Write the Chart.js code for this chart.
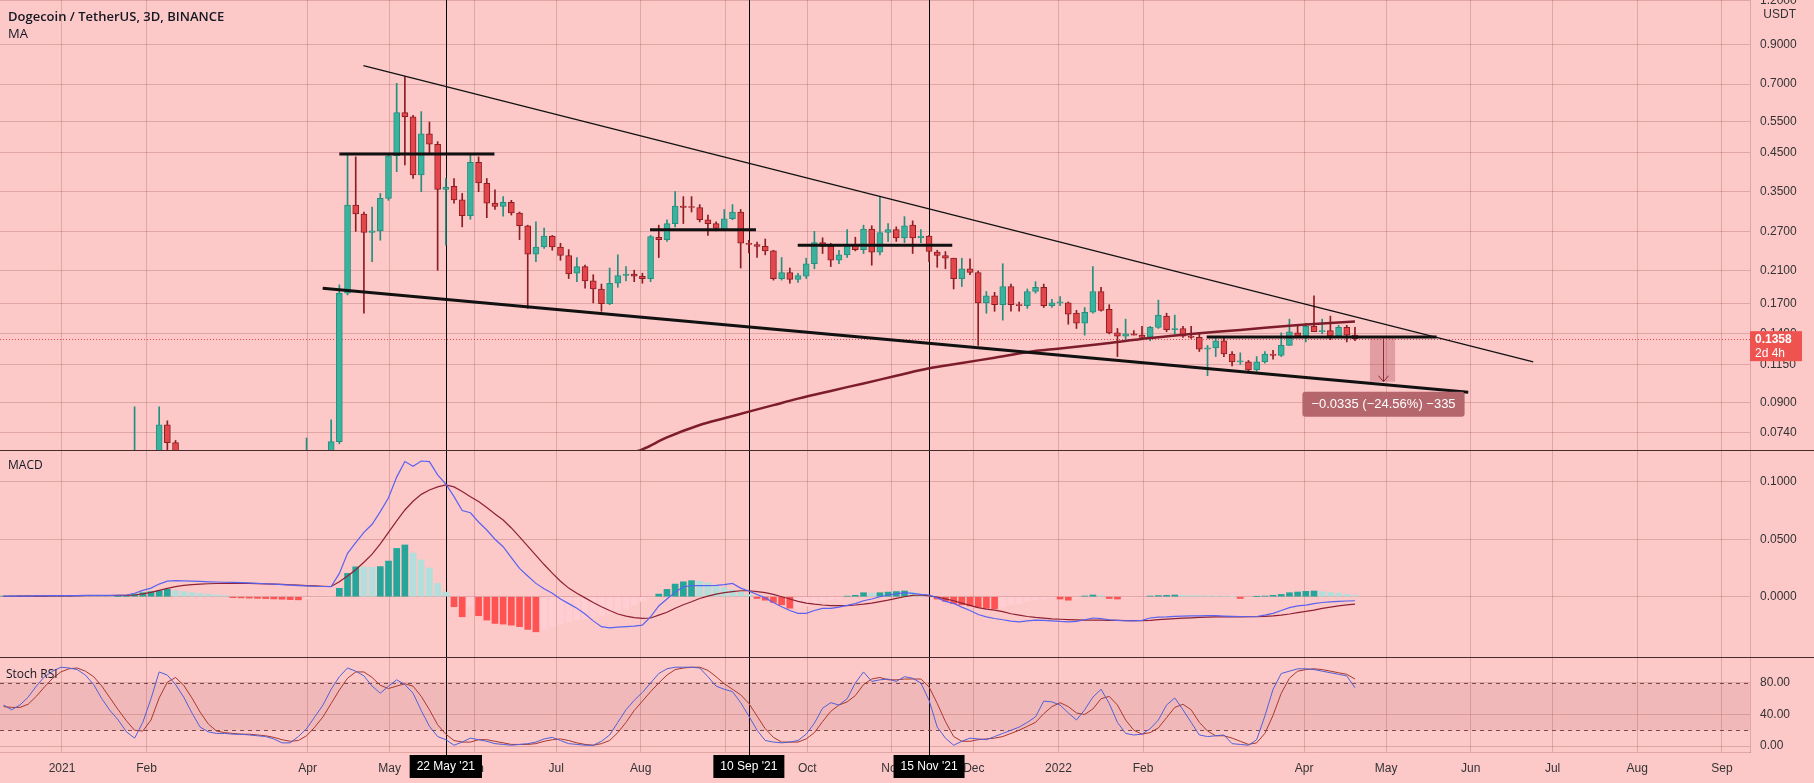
<!DOCTYPE html>
<html>
<head>
<meta charset="utf-8">
<title>Dogecoin / TetherUS, 3D, BINANCE</title>
<script src="https://cdn.jsdelivr.net/npm/chart.js@4.4.1/dist/chart.umd.min.js"></script>
<style>
  html, body { margin: 0; padding: 0; background: #fcc8c8; overflow: hidden; }
  #wrap { position: relative; width: 1814px; height: 783px; }
  canvas { position: absolute; left: 0; }
  .sep { position: absolute; left: 0; width: 1814px; height: 1px; background: #4a2b2b; }
</style>
</head>
<body>
<div id="wrap">
  <canvas id="pricePane" width="1814" height="450" style="top:0"></canvas>
  <div class="sep" style="top:450px"></div>
  <canvas id="macdPane" width="1814" height="206" style="top:451px"></canvas>
  <div class="sep" style="top:657px"></div>
  <canvas id="stochPane" width="1814" height="125" style="top:658px"></canvas>
</div>
<script>
// time axis: day 0 = 1 Jan 2021, one candle every 3 days
const firstBarDay = -21.4;
const barStepDays = 3;

// OHLC, null where the whole candle sits below the visible price range
const open = [
  null,null,null,null,null,null,null,null,null,null,null,null,null,null,null,null,
  .0075,null,null,.050,.078,.0695,null,null,null,null,null,null,null,null,null,null,null,null,null,null,null,.055,null,null,.060,
  .070,.182,.321,.303,.269,.272,.335,.441,.582,.567,
  .390,.508,.475,.355,.362,.332,.300,.423,.369,.325,
  .318,.327,.305,.281,.234,.245,.263,.245,.232,.207,
  .216,.197,.187,.170,.194,.204,.206,.203,.200,.261,
  .257,.285,.319,.317,.316,.292,.285,.274,.294,.307,
  .251,.249,.246,.239,.200,.208,.199,.203,.220,.252,
  .246,.225,.233,.248,.241,.275,.237,.269,.274,.260,
  .282,.260,.263,.237,.232,.228,.200,.213,.208,.171,
  .179,.169,.190,.169,.168,.184,.189,.168,.171,.171,
  .160,.150,.161,.184,.164,.141,.138,.140,.139,.137,
  .146,.157,.144,.145,.138,.137,.127,.128,.134,.123,
  .117,.117,.111,.117,.123,.122,.130,.141,.138,.147,
  .142,.143,.138,.146,.139
];
const high = [
  null,null,null,null,null,null,null,null,null,null,null,null,null,null,null,null,
  .0875,null,null,.0875,.080,.0705,null,null,null,null,null,null,null,null,null,null,null,null,null,null,null,.0716,null,null,.0805,
  .192,.448,.438,.307,.317,.346,.448,.703,.734,.572,
  .586,.548,.483,.381,.381,.346,.448,.438,.381,.354,
  .339,.331,.307,.282,.288,.277,.264,.251,.241,.229,
  .218,.205,.193,.214,.233,.216,.211,.207,.264,.282,
  .292,.350,.339,.339,.322,.301,.288,.312,.322,.312,
  .256,.253,.258,.240,.229,.214,.207,.228,.271,.260,
  .251,.240,.274,.261,.282,.281,.339,.285,.279,.298,
  .290,.274,.264,.240,.238,.228,.228,.227,.210,.184,
  .183,.220,.193,.172,.187,.196,.193,.175,.178,.172,
  .163,.166,.216,.189,.169,.145,.154,.143,.147,.147,
  .174,.160,.158,.147,.147,.141,.130,.137,.136,.125,
  .124,.118,.121,.125,.126,.141,.154,.148,.150,.179,
  .154,.157,.148,.148,.146
];
const low = [
  null,null,null,null,null,null,null,null,null,null,null,null,null,null,null,null,
  .0074,null,null,.048,.066,.055,null,null,null,null,null,null,null,null,null,null,null,null,null,null,null,.053,null,null,.058,
  .069,.180,.271,.160,.223,.256,.331,.398,.416,.381,
  .350,.448,.211,.248,.325,.279,.293,.350,.296,.312,
  .299,.301,.257,.165,.223,.243,.240,.225,.200,.196,
  .188,.171,.162,.169,.189,.197,.196,.194,.196,.229,
  .254,.279,.285,.307,.288,.264,.272,.272,.292,.214,
  .236,.229,.233,.198,.198,.194,.195,.200,.213,.235,
  .216,.220,.229,.239,.235,.218,.233,.254,.254,.252,
  .235,.252,.223,.215,.213,.187,.190,.205,.130,.160,
  .162,.153,.162,.162,.165,.182,.166,.166,.168,.149,
  .145,.139,.160,.162,.140,.121,.135,.139,.136,.134,
  .145,.142,.140,.137,.136,.125,.107,.121,.121,.114,
  .115,.110,.110,.116,.119,.121,.130,.137,.133,.142,
  .140,.135,.137,.133,.134
];
const close = [
  null,null,null,null,null,null,null,null,null,null,null,null,null,null,null,null,
  .035,null,null,.078,.0695,.060,null,null,null,null,null,null,null,null,null,null,null,null,null,null,null,.060,null,null,.070,
  .182,.321,.303,.269,.272,.335,.441,.582,.567,.390,
  .508,.475,.355,.360,.332,.300,.423,.370,.325,.318,
  .327,.305,.281,.234,.245,.263,.245,.232,.206,.216,
  .197,.187,.170,.194,.204,.206,.203,.200,.262,.257,
  .285,.319,.316,.316,.292,.285,.276,.294,.307,.251,
  .249,.246,.239,.200,.208,.199,.204,.220,.252,.246,
  .225,.233,.248,.241,.275,.237,.269,.274,.260,.281,
  .260,.263,.238,.232,.228,.200,.213,.208,.171,.179,
  .169,.190,.169,.168,.184,.189,.168,.171,.172,.159,
  .150,.161,.184,.163,.141,.138,.140,.139,.137,.146,
  .158,.144,.145,.138,.137,.127,.128,.134,.123,.117,
  .1175,.111,.117,.123,.122,.130,.142,.138,.147,.142,
  .143,.138,.146,.139,.1358
];

// MA overlay, read at a subset of bars (index into the bar arrays)
const maBars = [71,75,78,81,85,88,91,94,97,101,105,109,113,117,121,125,129,134,140,146,151,157,161,165];
const maValues = [0.0583,0.0634,0.0666,0.0719,0.0779,0.0813,0.0849,0.0885,0.0923,0.0970,0.1018,0.1069,
                  0.1122,0.1161,0.1201,0.1245,0.1275,0.1313,0.1363,0.1406,0.1437,0.1475,0.1498,0.1517];

const macdLine = [
  0.0005,0.0005,0.0006,0.0006,0.0007,0.0008,0.0009,0.0009,0.0010,0.0010,0.0011,0.0011,0.0012,0.0012,0.0013,0.0015,
  0.0030,0.0055,0.0075,0.0110,0.0135,0.0140,0.0138,0.0135,0.0133,0.0130,
  0.0128,0.0126,0.0124,0.0122,0.0120,0.0116,0.0113,0.0110,0.0105,0.0101,
  0.0097,0.0094,0.0091,0.0089,0.0088,0.0203,0.0377,0.0470,0.0560,0.0630,
  0.0740,0.0860,0.1040,0.1175,0.1135,0.1180,0.1175,0.1060,0.0980,0.0870,
  0.0750,0.0730,0.0650,0.0580,0.0500,0.0435,0.0340,0.0247,0.0180,0.0116,
  0.0070,0.0030,-0.0020,-0.0060,-0.0100,-0.0150,-0.0210,-0.0260,-0.0270,-0.0265,
  -0.0260,-0.0255,-0.0247,-0.0174,-0.0080,-0.0020,0.0040,0.0087,0.0096,0.0096,
  0.0096,0.0098,0.0105,0.0116,0.0075,0.0050,0.0020,-0.0010,-0.0050,-0.0087,
  -0.0120,-0.0145,-0.0145,-0.0120,-0.0101,-0.0101,-0.0090,-0.0075,-0.0060,-0.0035,
  -0.0020,0.0000,0.0015,0.0025,0.0035,0.0030,0.0020,0.0015,-0.0010,-0.0040,
  -0.0058,-0.0090,-0.0120,-0.0155,-0.0175,-0.0189,-0.0200,-0.0212,-0.0218,-0.0210,
  -0.0203,-0.0205,-0.0210,-0.0215,-0.0218,-0.0215,-0.0200,-0.0185,-0.0190,-0.0200,
  -0.0205,-0.0209,-0.0210,-0.0205,-0.0185,-0.0178,-0.0175,-0.0170,-0.0168,-0.0167,
  -0.0166,-0.0165,-0.0165,-0.0168,-0.0170,-0.0172,-0.0174,-0.0172,-0.0160,-0.0145,
  -0.0120,-0.0095,-0.0080,-0.0073,-0.0060,-0.0050,-0.0044,-0.0040,-0.0037,-0.0035
];
const signalLine = [
  0.0004,0.0004,0.0005,0.0005,0.0006,0.0006,0.0007,0.0007,0.0008,0.0008,0.0009,0.0009,0.0010,0.0010,0.0011,0.0012,
  0.0015,0.0025,0.0038,0.0055,0.0073,0.0088,0.0098,0.0105,0.0110,0.0113,
  0.0115,0.0116,0.0116,0.0116,0.0115,0.0114,0.0112,0.0110,0.0107,0.0104,
  0.0101,0.0097,0.0094,0.0091,0.0089,0.0130,0.0180,0.0235,0.0300,0.0370,
  0.0460,0.0560,0.0660,0.0754,0.0830,0.0890,0.0928,0.0955,0.0972,0.0955,
  0.0914,0.0870,0.0827,0.0775,0.0720,0.0667,0.0598,0.0520,0.0440,0.0360,
  0.0280,0.0205,0.0135,0.0075,0.0030,-0.0010,-0.0050,-0.0087,-0.0120,-0.0150,
  -0.0168,-0.0182,-0.0189,-0.0185,-0.0160,-0.0135,-0.0100,-0.0070,-0.0044,-0.0015,
  0.0005,0.0023,0.0035,0.0045,0.0052,0.0052,0.0045,0.0035,0.0020,0.0000,
  -0.0020,-0.0040,-0.0055,-0.0065,-0.0072,-0.0077,-0.0078,-0.0077,-0.0072,-0.0065,
  -0.0055,-0.0042,-0.0030,-0.0015,0.0000,0.0012,0.0015,0.0008,-0.0003,-0.0018,
  -0.0035,-0.0055,-0.0075,-0.0095,-0.0108,-0.0116,-0.0130,-0.0148,-0.0160,-0.0172,
  -0.0180,-0.0186,-0.0192,-0.0196,-0.0199,-0.0201,-0.0203,-0.0203,-0.0204,-0.0205,
  -0.0206,-0.0207,-0.0208,-0.0209,-0.0205,-0.0199,-0.0194,-0.0190,-0.0186,-0.0183,
  -0.0180,-0.0178,-0.0176,-0.0175,-0.0175,-0.0175,-0.0174,-0.0174,-0.0170,-0.0166,
  -0.0160,-0.0150,-0.0138,-0.0128,-0.0116,-0.0102,-0.0090,-0.0080,-0.0071,-0.0064
];
const histogram = [
  0.0006,0.0007,0.0007,0.0008,0.0008,0.0008,0.0009,0.0009,0.0009,0.0008,0.0005,0.0004,0.0003,0.0002,0.0002,0.0003,
  0.0023,0.0035,0.0044,0.0052,0.0064,0.0052,0.0045,0.0036,0.0028,0.0022,
  0.0015,0.0010,-0.0008,-0.0010,-0.0012,-0.0014,-0.0016,-0.0019,-0.0022,-0.0025,
  -0.0027,-0.0018,-0.0012,-0.0007,-0.0003,0.0073,0.0203,0.0260,0.0258,0.0256,
  0.0262,0.0310,0.0420,0.0450,0.0380,0.0320,0.0250,0.0116,0.0040,-0.0087,
  -0.0174,-0.0080,-0.0165,-0.0203,-0.0232,-0.0238,-0.0247,-0.0260,-0.0284,-0.0305,
  -0.0280,-0.0260,-0.0240,-0.0220,-0.0200,-0.0190,-0.0180,-0.0170,-0.0150,-0.0120,
  -0.0100,-0.0070,-0.0040,-0.0010,0.0023,0.0064,0.0110,0.0130,0.0140,0.0135,
  0.0120,0.0100,0.0080,0.0060,0.0040,0.0020,-0.0015,-0.0030,-0.0050,-0.0070,
  -0.0100,-0.0090,-0.0080,-0.0060,-0.0040,-0.0030,-0.0020,0.0005,0.0012,0.0035,
  0.0030,0.0035,0.0040,0.0045,0.0050,0.0040,0.0025,0.0010,-0.0020,-0.0040,
  -0.0060,-0.0070,-0.0080,-0.0090,-0.0100,-0.0105,-0.0090,-0.0070,-0.0060,-0.0040,
  -0.0030,-0.0020,-0.0010,-0.0020,-0.0030,-0.0020,0.0006,0.0015,0.0010,-0.0015,
  -0.0020,-0.0015,-0.0008,-0.0004,0.0006,0.0010,0.0012,0.0015,0.0013,0.0011,
  0.0009,0.0008,0.0006,0.0004,0.0002,-0.0015,-0.0012,0.0002,0.0006,0.0012,
  0.0020,0.0035,0.0041,0.0047,0.0050,0.0045,0.0038,0.0030,0.0020,0.0010
];

const stochK = [
  52,46,52,62,76,88,95,100,99,97,
  90,78,60,45,33,18,10,30,60,94,
  90,78,62,42,24,18,16,16,15,15,
  14,13,12,9,4,4,12,22,37,52,
  72,88,99,95,89,76,67,76,84,78,
  67,45,25,12,8,1,5,10,8,6,
  3,2,1,2,3,5,9,11,7,3,
  2,1,1,6,14,30,46,58,68,80,
  92,98,100,100,100,99,88,76,72,69,
  55,38,20,7,5,4,5,7,15,29,
  48,55,52,60,80,94,82,84,85,82,
  88,86,80,58,24,10,1,6,10,9,
  8,12,16,20,24,30,37,57,56,52,
  42,33,46,62,72,54,30,16,14,15,
  22,33,52,61,46,30,14,12,13,14,
  3,2,1,8,38,72,92,95,98,98,
  97,95,93,91,89,74
];
const stochD = [
  50,49,49,53,63,75,86,94,98,99,
  95,88,76,61,46,32,20,19,33,61,
  81,87,77,61,43,28,19,17,16,15,
  15,14,13,11,8,6,7,13,24,37,
  54,71,86,94,94,87,77,73,76,79,
  76,63,46,27,15,7,5,5,8,8,
  6,4,2,2,2,3,6,8,9,7,
  4,2,1,3,7,17,30,45,57,69,
  80,90,97,99,100,100,96,88,79,72,
  65,54,38,22,11,5,5,5,9,17,
  31,44,52,56,64,78,85,87,84,84,
  85,85,85,75,54,31,12,6,6,8,
  9,10,12,16,20,25,30,41,50,55,
  50,42,40,47,60,63,52,33,20,15,
  17,23,36,49,53,46,30,19,13,13,
  10,6,2,4,16,39,67,86,95,97,
  98,97,95,93,91,85
];

// drawings on the price pane: [day, price]
const upperTrend = [[110.4, 0.788], [538.9, 0.117]];
const lowerTrend = [[95.5, 0.188], [515.1, 0.0961]];
const levelLines = [[101.6, 158.4, 0.446], [215.4, 254.2, 0.274], [269.5, 326.1, 0.248], [419.3, 503.5, 0.1372]];
const measureDays = [479.1, 488.3];
const measurePrices = [0.1364, 0.1029];
const measureText = '\u22120.0335 (\u221224.56%) \u2212335';
const lastClose = 0.1358;
const countdown = '2d 4h';

const markerDays = [140.6, 251.6, 317.6];
const markerLabels = ["22 May '21", "10 Sep '21", "15 Nov '21"];

const monthTickDays = [0, 31, 90, 120, 151, 181, 212, 243, 273, 304, 334, 365, 396, 455, 485, 516, 546, 577, 608];
const monthTickLabels = ['2021','Feb','Apr','May','Jun','Jul','Aug','Sep','Oct','Nov','Dec','2022','Feb','Apr','May','Jun','Jul','Aug','Sep'];
const priceTicks = [1.2, 0.9, 0.7, 0.55, 0.45, 0.35, 0.27, 0.21, 0.17, 0.14, 0.115, 0.09, 0.074];
const macdTicks = [0.1, 0.05, 0];
const stochTicks = [80, 40, 0];

// ---------------------------------------------------------------
const barDays = open.map((_, i) => firstBarDay + i * barStepDays);
const xMin = -22.7, xMax = 618.3;
const gridColor = 'rgba(140,60,60,0.25)';
const upFill = '#3bb29e', upLine = '#23907e', downFill = '#e3474c', downLine = '#8c1d22';
const axisFont = '"Liberation Sans", Arial, sans-serif';

Chart.defaults.font.family = axisFont;
Chart.defaults.font.size = 12;
Chart.defaults.color = '#333';
Chart.defaults.animation = false;
Chart.defaults.events = [];
Chart.defaults.plugins.legend.display = false;
Chart.defaults.plugins.tooltip.enabled = false;

function xAxis(showLabels) {
  return {
    type: 'linear', min: xMin, max: xMax, offset: false,
    afterBuildTicks: s => { s.ticks = monthTickDays.map(v => ({ value: v })); },
    afterFit: s => { s.height = showLabels ? 31 : 0; s.paddingLeft = 0; s.paddingRight = 0; },
    ticks: { display: showLabels, autoSkip: false, maxRotation: 0, padding: 9, color: '#333',
             callback: (v, i) => monthTickLabels[i] },
    grid: { color: gridColor, drawTicks: false, offset: false },
    border: { display: showLabels, color: gridColor }
  };
}
function yAxis(type, min, max, ticks, fmt) {
  return {
    type, position: 'right', min, max,
    afterBuildTicks: s => { s.ticks = ticks.map(v => ({ value: v })); },
    afterFit: s => { s.width = 64; s.paddingTop = 0; s.paddingBottom = 0; },
    ticks: { padding: 10, autoSkip: false, color: '#333', callback: fmt },
    grid: { color: gridColor, drawTicks: false },
    border: { color: gridColor }
  };
}

const markerLines = {
  id: 'markerLines',
  beforeDatasetsDraw(chart) {
    const { ctx, chartArea: a, scales: { x } } = chart;
    const extra = chart.canvas.id === 'stochPane' ? 3 : 0;
    ctx.save();
    ctx.strokeStyle = '#000';
    ctx.lineWidth = 1;
    markerDays.forEach(d => {
      const px = Math.round(x.getPixelForValue(d)) + 0.5;
      ctx.beginPath(); ctx.moveTo(px, a.top); ctx.lineTo(px, a.bottom + extra); ctx.stroke();
    });
    ctx.restore();
  }
};

// ---------------- price pane ----------------
const shown = open.map((v, i) => i).filter(i => open[i] != null);
const upAt = j => close[shown[j]] >= open[shown[j]];

const pricePaneExtras = {
  id: 'pricePaneExtras',
  beforeDatasetsDraw(chart) {
    const { ctx, chartArea: a, scales: { y } } = chart;
    const py = Math.round(y.getPixelForValue(lastClose)) + 0.5;
    ctx.save();
    ctx.strokeStyle = '#d9474c';
    ctx.setLineDash([1, 2]);
    ctx.beginPath(); ctx.moveTo(a.left, py); ctx.lineTo(a.right, py); ctx.stroke();
    ctx.restore();
  },
  afterDatasetsDraw(chart) {
    const { ctx, scales: { x, y } } = chart;
    const x0 = x.getPixelForValue(measureDays[0]), x1 = x.getPixelForValue(measureDays[1]);
    const y0 = y.getPixelForValue(measurePrices[0]), y1 = y.getPixelForValue(measurePrices[1]);
    ctx.save();
    ctx.fillStyle = 'rgba(165,60,75,0.30)';
    ctx.fillRect(x0, y0, x1 - x0, y1 - y0);
    const cx = Math.round((x0 + x1) / 2) + 0.5;
    ctx.strokeStyle = '#8b2a35';
    ctx.lineWidth = 1;
    ctx.beginPath(); ctx.moveTo(cx, y0); ctx.lineTo(cx, y1); ctx.stroke();
    ctx.beginPath(); ctx.moveTo(cx - 5, y1 - 6); ctx.lineTo(cx, y1); ctx.lineTo(cx + 5, y1 - 6); ctx.stroke();
    ctx.font = '13px ' + axisFont;
    const w = ctx.measureText(measureText).width + 18;
    ctx.fillStyle = '#b5666d';
    ctx.beginPath(); ctx.roundRect(cx - w / 2, y1 + 10, w, 25, 3); ctx.fill();
    ctx.fillStyle = '#fff';
    ctx.textAlign = 'center'; ctx.textBaseline = 'middle';
    ctx.fillText(measureText, cx, y1 + 23);
    ctx.restore();
  },
  afterDraw(chart) {
    const { ctx, scales: { y } } = chart;
    ctx.save();
    ctx.fillStyle = '#131722';
    ctx.textBaseline = 'middle';
    ctx.font = '600 13px "Open Sans", sans-serif';
    ctx.fillText('Dogecoin / TetherUS, 3D, BINANCE', 8, 17);
    ctx.font = '13px "Open Sans", sans-serif';
    ctx.fillText('MA', 8, 34);
    ctx.fillStyle = '#333';
    ctx.font = '12px ' + axisFont;
    ctx.textAlign = 'right';
    ctx.fillText('USDT', 1796, 15);
    const py = y.getPixelForValue(lastClose);
    ctx.fillStyle = '#ef5350';
    ctx.fillRect(1750, py - 7.5, 52, 30);
    ctx.fillStyle = '#fff';
    ctx.textAlign = 'left';
    ctx.font = 'bold 12px ' + axisFont;
    ctx.fillText(lastClose.toFixed(4), 1755, py + 1);
    ctx.font = '12px ' + axisFont;
    ctx.fillText(countdown, 1755, py + 15);
    ctx.restore();
  }
};

const lineSet = (pts, color, width, order) => ({
  type: 'line', data: pts.map(p => ({ x: p[0], y: p[1] })), borderColor: color, borderWidth: width,
  pointRadius: 0, order
});

new Chart(document.getElementById('pricePane'), {
  type: 'bar',
  data: {
    datasets: [
      lineSet(upperTrend, '#111', 1.2, 1),
      lineSet(lowerTrend, '#111', 3, 1),
      ...levelLines.map(l => lineSet([[l[0], l[2]], [l[1], l[2]]], '#111', 3, 1)),
      {
        type: 'line', order: 2,
        data: maBars.map((b, i) => ({ x: barDays[b], y: maValues[i] })),
        borderColor: '#7d1d2b', borderWidth: 2.5, pointRadius: 0, tension: 0.35
      },
      {
        order: 3, grouped: false, barThickness: 6, minBarLength: 1, borderSkipped: false, borderWidth: 1,
        data: shown.map(i => ({ x: barDays[i], y: [open[i], close[i]] })),
        backgroundColor: c => upAt(c.dataIndex) ? upFill : downFill,
        borderColor: c => upAt(c.dataIndex) ? upLine : downLine
      },
      {
        order: 4, grouped: false, barThickness: 1, borderWidth: 0,
        data: shown.map(i => ({ x: barDays[i], y: [low[i], high[i]] })),
        backgroundColor: c => upAt(c.dataIndex) ? upLine : downLine
      }
    ]
  },
  options: {
    responsive: false, maintainAspectRatio: false,
    layout: { padding: 0 },
    scales: {
      x: xAxis(false),
      y: yAxis('logarithmic', 0.0663, 1.2025, priceTicks, v => Number(v).toFixed(4))
    }
  },
  plugins: [markerLines, pricePaneExtras]
});

// ---------------- MACD pane ----------------
const macdLabel = {
  id: 'macdLabel',
  afterDraw(chart) {
    const ctx = chart.ctx;
    ctx.save();
    ctx.fillStyle = '#131722';
    ctx.font = '12px "Open Sans", sans-serif';
    ctx.textBaseline = 'middle';
    ctx.fillText('MACD', 8, 15);
    ctx.restore();
  }
};
new Chart(document.getElementById('macdPane'), {
  type: 'bar',
  data: {
    datasets: [
      { type: 'line', order: 1, data: barDays.map((d, i) => ({ x: d, y: macdLine[i] })),
        borderColor: '#5a63f0', borderWidth: 1.2, pointRadius: 0 },
      { type: 'line', order: 2, data: barDays.map((d, i) => ({ x: d, y: signalLine[i] })),
        borderColor: '#8e2232', borderWidth: 1.2, pointRadius: 0 },
      { order: 3, barThickness: 6, grouped: false,
        data: barDays.map((d, i) => ({ x: d, y: histogram[i] })),
        backgroundColor: c => {
          const i = c.dataIndex, v = histogram[i], p = i > 0 ? histogram[i - 1] : 0;
          return v >= 0 ? (v >= p ? '#26a69a' : '#b2dfdb') : (v <= p ? '#ff5252' : '#ffcdd2');
        } }
    ]
  },
  options: {
    responsive: false, maintainAspectRatio: false,
    layout: { padding: 0 },
    scales: {
      x: xAxis(false),
      y: yAxis('linear', -0.0524, 0.1267, macdTicks, v => Number(v).toFixed(4))
    }
  },
  plugins: [markerLines, macdLabel]
});

// ---------------- Stoch RSI pane ----------------
const stochExtras = {
  id: 'stochExtras',
  beforeDatasetsDraw(chart) {
    const { ctx, chartArea: a, scales: { y } } = chart;
    const y80 = Math.round(y.getPixelForValue(80)) + 0.5, y20 = Math.round(y.getPixelForValue(20)) + 0.5;
    ctx.save();
    ctx.fillStyle = 'rgba(165,70,80,0.12)';
    ctx.fillRect(a.left, y80, a.right - a.left, y20 - y80);
    ctx.strokeStyle = '#7a4a4a';
    ctx.setLineDash([4, 4]);
    [y80, y20].forEach(py => { ctx.beginPath(); ctx.moveTo(a.left, py); ctx.lineTo(a.right, py); ctx.stroke(); });
    ctx.restore();
  },
  afterDraw(chart) {
    const { ctx, chartArea: a, scales: { x } } = chart;
    ctx.save();
    ctx.fillStyle = '#131722';
    ctx.font = '12px "Open Sans", sans-serif';
    ctx.textBaseline = 'middle';
    ctx.fillText('Stoch RSI', 6, 17);
    ctx.font = '12px ' + axisFont;
    ctx.textAlign = 'center';
    markerDays.forEach((d, i) => {
      const px = x.getPixelForValue(d);
      const w = ctx.measureText(markerLabels[i]).width + 14;
      ctx.fillStyle = '#000';
      ctx.fillRect(px - w / 2, a.bottom + 3, w, 23);
      ctx.fillStyle = '#fff';
      ctx.fillText(markerLabels[i], px, a.bottom + 15);
    });
    ctx.restore();
  }
};
new Chart(document.getElementById('stochPane'), {
  type: 'line',
  data: {
    datasets: [
      { data: barDays.map((d, i) => ({ x: d, y: stochK[i] })), borderColor: '#5060d8', borderWidth: 1, pointRadius: 0, order: 1 },
      { data: barDays.map((d, i) => ({ x: d, y: stochD[i] })), borderColor: '#a8382c', borderWidth: 1, pointRadius: 0, order: 2 }
    ]
  },
  options: {
    responsive: false, maintainAspectRatio: false,
    layout: { padding: 0 },
    scales: {
      x: xAxis(true),
      y: yAxis('linear', -7.6, 111.7, stochTicks, v => Number(v).toFixed(2))
    }
  },
  plugins: [markerLines, stochExtras]
});
</script>
</body>
</html>
